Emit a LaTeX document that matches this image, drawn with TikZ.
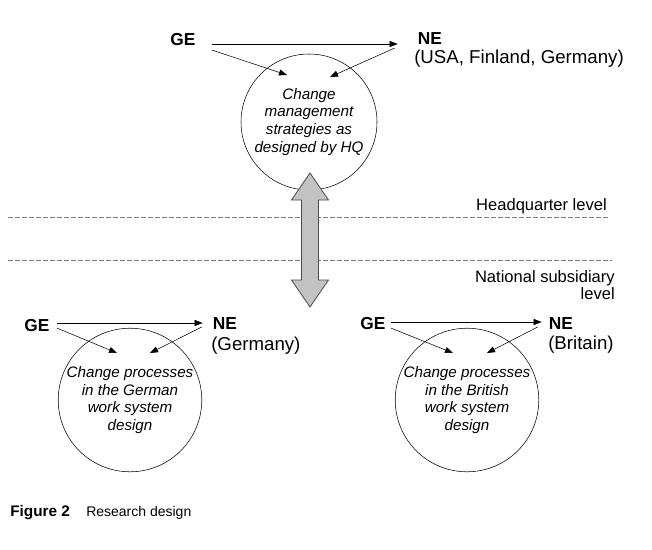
\documentclass[tikz,border=0pt]{standalone}
\usepackage{fontspec}
\setmainfont{Liberation Sans}
\usetikzlibrary{arrows.meta,calc}
\definecolor{pfeilgrau}{gray}{0.76}
\definecolor{liniengrau}{gray}{0.5}
\tikzset{
>={Triangle[length=6pt,width=4.5pt]},
ent/.style={inner sep=0pt,font=\fontsize{13}{15}\selectfont\bfseries},
land/.style={inner sep=0pt,anchor=base west,font=\fontsize{14}{16}\selectfont},
proc/.style={circle,draw,thin,minimum size=102pt,inner sep=0pt,align=center,
  font=\fontsize{11.4}{13.4}\selectfont\itshape},
freccia/.style={->,thin},
livello/.style={thin,liniengrau,dash pattern=on 3.75pt off 1.5pt},
etichetta/.style={inner sep=0pt,align=right,font=\fontsize{12.4}{13.2}\selectfont},
didascalia/.style={inner sep=0pt,anchor=base west,font=\fontsize{10.5}{12}\selectfont}}

\begin{document}
\begin{tikzpicture}[x=0.75pt,y=-0.75pt]
\useasboundingbox (0,0) rectangle (652,549);

% headquarter
\node[proc] (cT) at (309,122) {Change\\management\\strategies as\\designed by HQ};
\node[ent] (geT) at (183,40) {GE};
\node[ent] (neT) at (430,39) {NE};
\node[land] (neTx) at (414,64) {(USA, Finland, Germany)};
\coordinate (tT1) at (287,75);
\coordinate (tT2) at (330,77);

\path[freccia] ($(geT.east)+(16,4)$) edge ($(neT.west)+(-20,5)$);
\path[freccia] ($(geT.east)+(16,10)$) edge (tT1);
\path[freccia] ($(neT.west)+(-23,9)$) edge (tT2);

% levels
\node[etichetta,anchor=base east] (hq) at (607,210) {Headquarter level};
\node[etichetta,anchor=north east] (ns) at (615,270) {National subsidiary\\level};
\draw[livello] (8,217) -- (608,217);
\draw[livello] (8,260) -- (612,260);

\draw[fill=pfeilgrau,draw=black!70,semithick] (310,173) -- (328.5,200) -- (318.5,200)
  -- (318.5,280) -- (328.5,280) -- (310,307) -- (291.5,280) -- (301.5,280)
  -- (301.5,200) -- (291.5,200) -- cycle;

% Germany
\node[proc] (cL) at (130,400) {Change processes\\in the German\\work system\\design};
\node[ent] (geL) at (37,326) {GE};
\node[ent] (neL) at (225,324) {NE};
\node[land] (neLx) at (211,350) {(Germany)};
\coordinate (tL1) at (117,353);
\coordinate (tL2) at (150,353);

\path[freccia] ($(geL.east)+(7,-3)$) edge ($(neL.west)+(-10,-1)$);
\path[freccia] ($(geL.east)+(7,2)$) edge (tL1);
\path[freccia] ($(neL.west)+(-11,3)$) edge (tL2);

% Britain
\node[proc] (cR) at (467,400) {Change processes\\in the British\\work system\\design};
\node[ent] (geR) at (373,324) {GE};
\node[ent] (neR) at (561,324) {NE};
\node[land] (neRx) at (548,349) {(Britain)};
\coordinate (tR1) at (453,353);
\coordinate (tR2) at (487,353);

\path[freccia] ($(geR.east)+(5,-2)$) edge ($(neR.west)+(-7,-2)$);
\path[freccia] ($(geR.east)+(5,4)$) edge (tR1);
\path[freccia] ($(neR.west)+(-11,3)$) edge (tR2);

\node[didascalia,font=\fontsize{11.5}{12}\selectfont\bfseries] (fig) at (10,516) {Figure 2};
\node[didascalia] (tit) at (86,516) {Research design};

\end{tikzpicture}
\end{document}
